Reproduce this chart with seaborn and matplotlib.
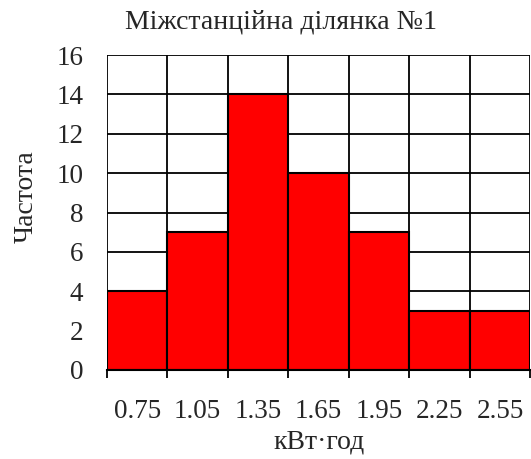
import matplotlib
matplotlib.use("Agg")
import matplotlib.pyplot as plt
import seaborn as sns
import pandas as pd
import numpy as np

bins = ["0.75", "1.05", "1.35", "1.65", "1.95", "2.25", "2.55"]
counts = [4, 7, 14, 10, 7, 3, 3]
yticks = [0, 2, 4, 6, 8, 10, 12, 14, 16]

sns.set_theme(style="white")
plt.rcParams["font.family"] = ["Liberation Serif", "DejaVu Serif"]

df = pd.DataFrame({"bin": bins, "count": counts})

fig = plt.figure(figsize=(5.31, 4.59), dpi=100)
ax = fig.add_axes([0.2015, 0.194, 0.797, 0.686])

# grid behind the bars
ax.set_axisbelow(True)
ax.yaxis.grid(True, color="black", linewidth=1.3)
ax.set_xticks(np.arange(-0.5, len(bins), 1.0), minor=True)
ax.xaxis.grid(True, which="minor", color="black", linewidth=1.3)

sns.barplot(data=df, x="bin", y="count", color="#ff0000", saturation=1,
            width=1.0, edgecolor="black", linewidth=1.5, ax=ax)

ax.set_xlim(-0.5, len(bins) - 0.5)
ax.set_ylim(0, 16)
ax.set_yticks(yticks)
ax.tick_params(axis="y", length=0, labelsize=19.5, pad=17)
ax.tick_params(axis="x", which="major", length=0, labelsize=19.5, pad=21)
ax.tick_params(axis="x", which="minor", length=6, width=1.3, color="black", bottom=True)

for side in ["top", "right", "left"]:
    ax.spines[side].set_visible(False)
ax.spines["bottom"].set_color("black")
ax.spines["bottom"].set_linewidth(1.5)

ax.set_xlabel("кВт·год", fontsize=20, labelpad=4)
ax.set_ylabel("")
fig.text(0.05, 0.571, "Частота", fontsize=20, rotation=90,
         ha="center", va="center")
fig.text(0.529, 0.952, "Міжстанційна ділянка №1", fontsize=20,
         ha="center", va="center")

fig.savefig("out.png", dpi=100)
